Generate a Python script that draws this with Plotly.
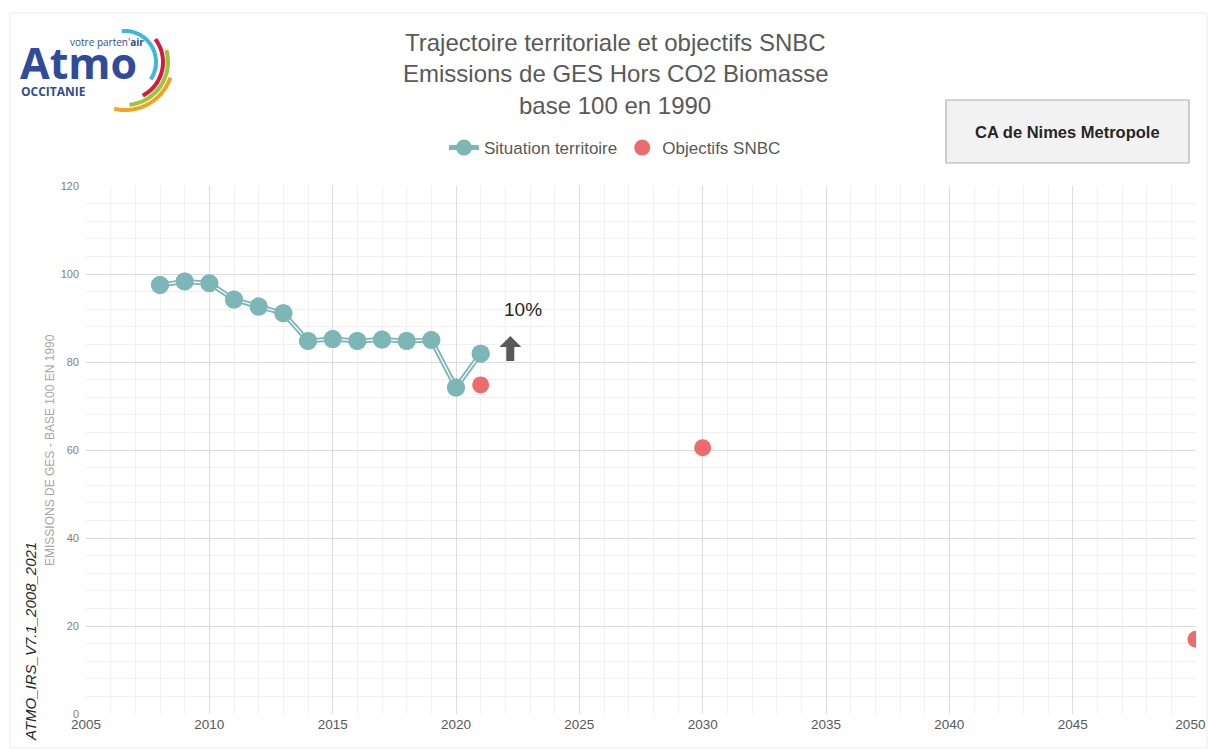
import numpy as np
import plotly.graph_objects as go

# ---- data ----
years_territoire = [2008, 2009, 2010, 2011, 2012, 2013, 2014, 2015, 2016, 2017, 2018, 2019, 2020, 2021]
values_territoire = [97.5, 98.3, 97.9, 94.2, 92.6, 91.1, 84.8, 85.2, 84.8, 85.1, 84.8, 85.0, 74.2, 81.9]
years_snbc = [2021, 2030, 2050]
values_snbc = [74.8, 60.5, 17.0]
x_tickvals = [2005, 2010, 2015, 2020, 2025, 2030, 2035, 2040, 2045, 2050]
x_ticktext = ["2005", "2010", "2015", "2020", "2025", "2030", "2035", "2040", "2045",
              "2050\u00a0\u00a0\u00a0"]
title_lines = ["Trajectoire territoriale et objectifs SNBC",
               "Emissions de GES Hors CO2 Biomasse",
               "base 100 en 1990"]
territory_name = "CA de Nimes Metropole"
ytitle = "EMISSIONS DE GES - BASE 100 EN 1990"
source_label = "ATMO_IRS_V7.1_2008_2021"
change_label = "10%"
change_pos = (2022.7, 92.0)
arrow_base = (2022.2, 80.2)

W, H = 1208, 749
ML, MR, MT, MB = 86, 12, 186, 35
PW, PH = W - ML - MR, H - MT - MB

def px(X):
    return (X - ML) / PW

def py(Y):
    return (H - MB - Y) / PH

FONT = "Liberation Sans, Arial, sans-serif"
TEAL = "#7db6b7"
RED = "#ee6b6c"

fig = go.Figure()
fig.add_trace(go.Scatter(
    x=years_territoire, y=values_territoire, mode="lines+markers",
    name="Situation territoire",
    line=dict(color=TEAL, width=5),
    marker=dict(color=TEAL, size=18),
))
fig.add_trace(go.Scatter(
    x=years_territoire, y=values_territoire, mode="lines",
    showlegend=False, hoverinfo="skip",
    line=dict(color="white", width=1.3),
))
fig.add_trace(go.Scatter(
    x=years_territoire, y=values_territoire, mode="markers",
    showlegend=False, hoverinfo="skip",
    marker=dict(color=TEAL, size=18),
))
fig.add_trace(go.Scatter(
    x=years_snbc, y=values_snbc, mode="markers",
    name="Objectifs SNBC",
    marker=dict(color=RED, size=17),
))

annotations = []
title_y = [42, 74, 105]
for line, yy in zip(title_lines, title_y):
    annotations.append(dict(text=line, xref="paper", yref="paper", x=px(615), y=py(yy),
                            xanchor="center", yanchor="middle", showarrow=False,
                            font=dict(family=FONT, size=24, color="#595959")))
annotations.append(dict(text="<b>" + territory_name + "</b>", xref="paper", yref="paper",
                        x=px(1067), y=py(132), xanchor="center", yanchor="middle",
                        showarrow=False, font=dict(family=FONT, size=16.5, color="#262626")))
annotations.append(dict(text=ytitle, xref="paper", yref="paper", x=px(50), y=0.5,
                        xanchor="center", yanchor="middle", textangle=-90, showarrow=False,
                        font=dict(family=FONT, size=12, color="#a6a6a6")))
annotations.append(dict(text="<i>" + source_label + "</i>", xref="paper", yref="paper",
                        x=px(30), y=py(642), xanchor="center", yanchor="middle", textangle=-90,
                        showarrow=False, font=dict(family=FONT, size=15, color="#262626")))
annotations.append(dict(text=change_label, x=change_pos[0], y=change_pos[1], xref="x", yref="y",
                        showarrow=False, xanchor="center", yanchor="middle",
                        font=dict(family=FONT, size=19, color="#262626")))
# logo texts
annotations.append(dict(text="<b>Atmo</b>", xref="paper", yref="paper", x=px(18), y=py(62),
                        xanchor="left", yanchor="middle", showarrow=False,
                        font=dict(family="Open Sans, sans-serif", size=43, color="#2f4b9a")))
annotations.append(dict(text="votre parten'<b>air</b>", xref="paper", yref="paper", x=px(68), y=py(42),
                        xanchor="left", yanchor="middle", showarrow=False,
                        font=dict(family="Open Sans, sans-serif", size=10, color="#2f4b9a")))
annotations.append(dict(text="<b>OCCITANIE</b>", xref="paper", yref="paper", x=px(19), y=py(91),
                        xanchor="left", yanchor="middle", showarrow=False,
                        font=dict(family="Open Sans, sans-serif", size=12, color="#2f4b9a")))

shapes = []
# outer frame
shapes.append(dict(type="rect", xref="paper", yref="paper", x0=px(10), x1=px(1207), y0=py(13), y1=py(748),
                   line=dict(color="#ececec", width=1), layer="below"))
# territory box
shapes.append(dict(type="rect", xref="paper", yref="paper", x0=px(946), x1=px(1189), y0=py(100), y1=py(163),
                   line=dict(color="#b0b0b0", width=1.2), fillcolor="#f2f2f2", layer="below"))
# arrow (pixel-sized block arrow anchored on data position)
arrow_path = "M -4 0 L 4 0 L 4 14 L 11 14 L 0 25 L -11 14 L -4 14 Z"
shapes.append(dict(type="path", xref="x", yref="y", xsizemode="pixel", ysizemode="pixel",
                   xanchor=arrow_base[0], yanchor=arrow_base[1], path=arrow_path,
                   fillcolor="#595959", line=dict(width=0)))

# logo arcs
def arc(cx, cy, r, a0, a1):
    t = np.radians(np.linspace(a0, a1, 40))
    xs = cx + r * np.cos(t) - ML
    ys = (MT) - (cy + r * np.sin(t))
    return "M " + " L ".join(f"{x:.1f} {y:.1f}" for x, y in zip(xs, ys))

for r, a0, a1, col in [(31, -96, 34, "#3cb7e2"), (38, -37, 62, "#d71a3b"),
                       (43, -16, 84, "#9dc53b"), (48, 19, 103, "#f3a31f")]:
    shapes.append(dict(type="path", xref="paper", yref="paper", xsizemode="pixel", ysizemode="pixel",
                       xanchor=0, yanchor=1, path=arc(125, 62, r, a0, a1),
                       line=dict(color=col, width=4)))

fig.update_layout(
    width=W, height=H, autosize=False,
    margin=dict(l=ML, r=MR, t=MT, b=MB, autoexpand=False),
    paper_bgcolor="white", plot_bgcolor="white",
    font=dict(family=FONT, color="#595959"),
    showlegend=True,
    legend=dict(orientation="h", x=px(615), y=py(148), xanchor="center", yanchor="middle",
                font=dict(family=FONT, size=17, color="#595959"), itemwidth=30,
                bgcolor="rgba(0,0,0,0)"),
    xaxis=dict(range=[2005, 2050], tickmode="array", tickvals=x_tickvals, ticktext=x_ticktext,
               showgrid=True, gridcolor="#dcdcdc",
               minor=dict(tickmode="linear", tick0=2005, dtick=1, showgrid=True, gridcolor="#f0f0f0"),
               zeroline=False, showline=False, ticks="", ticklabeloverflow="allow",
               automargin=False,
               tickfont=dict(family=FONT, size=13.5, color="#595959")),
    yaxis=dict(range=[0, 120], dtick=20, showgrid=True, gridcolor="#dcdcdc",
               minor=dict(dtick=4, showgrid=True, gridcolor="#f0f0f0"),
               zeroline=False, showline=False, ticks="", ticklabelstandoff=6,
               automargin=False,
               tickfont=dict(family=FONT, size=11, color="#7f7f7f")),
    annotations=annotations,
    shapes=shapes,
)

fig.write_html("out.html", config={"displayModeBar": False},
               post_script="document.body.style.margin='0';document.body.style.overflow='hidden';")
